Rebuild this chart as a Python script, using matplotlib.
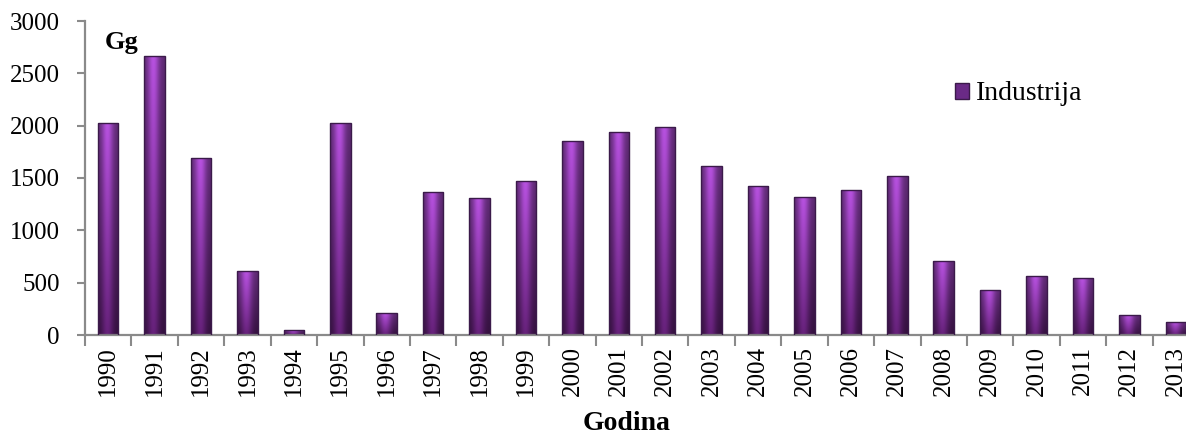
import numpy as np
import matplotlib
matplotlib.use("Agg")
import matplotlib.pyplot as plt
from matplotlib.patches import Patch

years = ['1990', '1991', '1992', '1993', '1994', '1995', '1996', '1997', '1998', '1999',
         '2000', '2001', '2002', '2003', '2004', '2005', '2006', '2007', '2008', '2009',
         '2010', '2011', '2012', '2013']
industrija = [2030, 2670, 1690, 610, 45, 2030, 210, 1370, 1310, 1470,
              1855, 1940, 1990, 1615, 1425, 1315, 1385, 1520, 705, 430,
              563, 541, 188, 124]
yticks = [0, 500, 1000, 1500, 2000, 2500, 3000]

plt.rcParams['font.family'] = ['Liberation Serif', 'DejaVu Serif']

W, H = 1186, 437
fig = plt.figure(figsize=(W / 100, H / 100), dpi=100)
ax = fig.add_axes([85 / W, 1 - 335 / H, (1199 - 85) / W, (335 - 21) / H])

x = np.arange(len(years))
bw = 0.44
bars = ax.bar(x, industrija, width=bw, color='none', edgecolor='#3b1a4a', linewidth=1.0, zorder=3)

# gradient fill for each bar
nx, ny = 60, 80
u = np.linspace(0, 1, nx)
hfac = 0.5 + 0.5 * np.exp(-((u - 0.45) / 0.28) ** 2)
t = np.linspace(1, 0, ny)[:, None]  # top row = 1
top = np.array([0.72, 0.32, 0.88])
bot = np.array([0.40, 0.13, 0.48])
base = bot + (top - bot) * t[..., None]
img = base * hfac[None, :, None]
img = np.clip(img, 0, 1)
for rect in bars:
    x0 = rect.get_x()
    x1 = x0 + rect.get_width()
    h = rect.get_height()
    im = ax.imshow(img, extent=[x0, x1, 0, h], aspect='auto', zorder=2,
                   interpolation='bilinear')
    im.set_clip_path(rect)

ax.set_xlim(-0.5, len(years) - 0.5)
ax.set_ylim(0, 3000)

for s in ['top', 'right']:
    ax.spines[s].set_visible(False)
for s in ['left', 'bottom']:
    ax.spines[s].set_color('#8a8a8a')
    ax.spines[s].set_linewidth(1.6)

ax.set_yticks(yticks)
ax.set_yticklabels([str(v) for v in yticks], fontsize=18)
ax.tick_params(axis='y', direction='out', length=6, width=1.5, color='#8a8a8a', pad=12)

ax.set_xticks(x)
ax.set_xticklabels(years, rotation=90, fontsize=18)
ax.tick_params(axis='x', which='major', length=0, pad=8)
ax.set_xticks(np.arange(len(years) + 1) - 0.5, minor=True)
ax.tick_params(axis='x', which='minor', direction='out', length=8, width=1.5, color='#8a8a8a')

ax.text(0.018, 0.93, 'Gg', transform=ax.transAxes, fontsize=19, fontweight='bold',
        va='center', ha='left')
fig.text(627 / W, 1 - 424 / H, 'Godina', fontsize=20, fontweight='bold', ha='center', va='center')

handle = Patch(facecolor='#6a2a86', edgecolor='#3b1a4a', label='Industrija')
leg = ax.legend(handles=[handle], loc='center left', bbox_to_anchor=(955 / W, 1 - 94 / H),
                bbox_transform=fig.transFigure, frameon=False, fontsize=20,
                handlelength=0.5, handleheight=0.5, handletextpad=0.25,
                borderpad=0, borderaxespad=0)

fig.savefig('out.png', dpi=100)
